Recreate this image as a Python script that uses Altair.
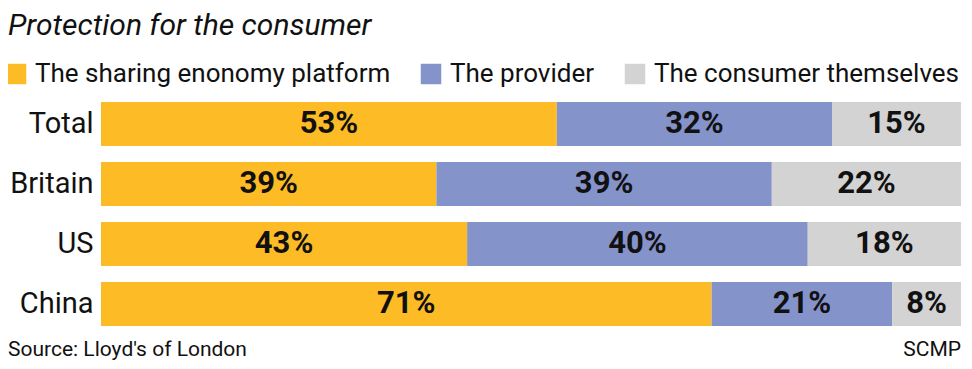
import altair as alt
import pandas as pd

countries = ["Total", "Britain", "US", "China"]
categories = ["The sharing enonomy platform", "The provider", "The consumer themselves"]
platform = [53, 39, 43, 71]
provider = [32, 39, 40, 21]
consumer = [15, 22, 18, 8]
colors = ["#FDBC25", "#8593CB", "#D3D3D3"]

rows = []
for i, c in enumerate(countries):
    for j, (cat, vals) in enumerate(zip(categories, [platform, provider, consumer])):
        rows.append({"country": c, "category": cat, "order": j, "value": vals[i],
                     "label": f"{vals[i]}%"})
df = pd.DataFrame(rows)

FONT = "Roboto"

base = alt.Chart(df).transform_joinaggregate(
    total="sum(value)", groupby=["country"]
).transform_calculate(
    share="datum.value / datum.total"
).transform_stack(
    stack="share", groupby=["country"], as_=["s0", "s1"],
    sort=[alt.SortField("order", order="ascending")]
).transform_calculate(
    mid="(datum.s0 + datum.s1) / 2"
)

yenc = alt.Y("country:N", sort=countries, title=None,
             scale=alt.Scale(paddingInner=0.2667, paddingOuter=0.1333),
             axis=alt.Axis(ticks=False, domain=False, labelFontSize=29, labelFont=FONT,
                           labelColor="#111111", labelPadding=8))

bars = base.mark_bar(cornerRadius=0).encode(
    x=alt.X("s0:Q", scale=alt.Scale(domain=[0, 1], nice=False), axis=None),
    x2="s1:Q",
    y=yenc,
    color=alt.Color("category:N", sort=categories,
                    scale=alt.Scale(domain=categories, range=colors),
                    legend=alt.Legend(title=None, orient="none", direction="horizontal",
                                      legendX=-98, legendY=-33,
                                      symbolType="square", symbolSize=420,
                                      symbolStrokeWidth=0, symbolOpacity=1,
                                      labelFontSize=26, labelFont=FONT, labelColor="#111111",
                                      labelOffset=6, columnPadding=27, padding=0,
                                      labelLimit=500)),
)

labels = base.mark_text(font=FONT, fontWeight="bold", fontSize=31, color="#111111",
                        baseline="middle").encode(
    x=alt.X("mid:Q"),
    y=alt.Y("country:N", sort=countries),
    text="label:N",
)

one = pd.DataFrame({"a": [0]})
title = alt.Chart(one).mark_text(text="Protection for the consumer", font=FONT,
                                 fontStyle="italic", fontSize=30, align="left",
                                 baseline="alphabetic", color="#111111").encode(
    x=alt.value(-93), y=alt.value(-59))
source = alt.Chart(one).mark_text(text="Source: Lloyd's of London", font=FONT,
                                  fontSize=21, align="left", baseline="alphabetic",
                                  color="#111111").encode(
    x=alt.value(-93), y=alt.value(262))
scmp = alt.Chart(one).mark_text(text="SCMP", font=FONT, fontSize=21, align="right",
                                baseline="alphabetic", color="#111111").encode(
    x=alt.value(860), y=alt.value(262))

chart = alt.layer(bars, labels, title, source, scmp).properties(
    width=860, height=240,
    autosize=alt.AutoSizeParams(type="none"),
    padding={"left": 93, "top": 86, "right": 3, "bottom": 27},
    background="white",
).configure_view(stroke=None)

chart.save("out.html", embed_options={"renderer": "svg", "actions": False})
